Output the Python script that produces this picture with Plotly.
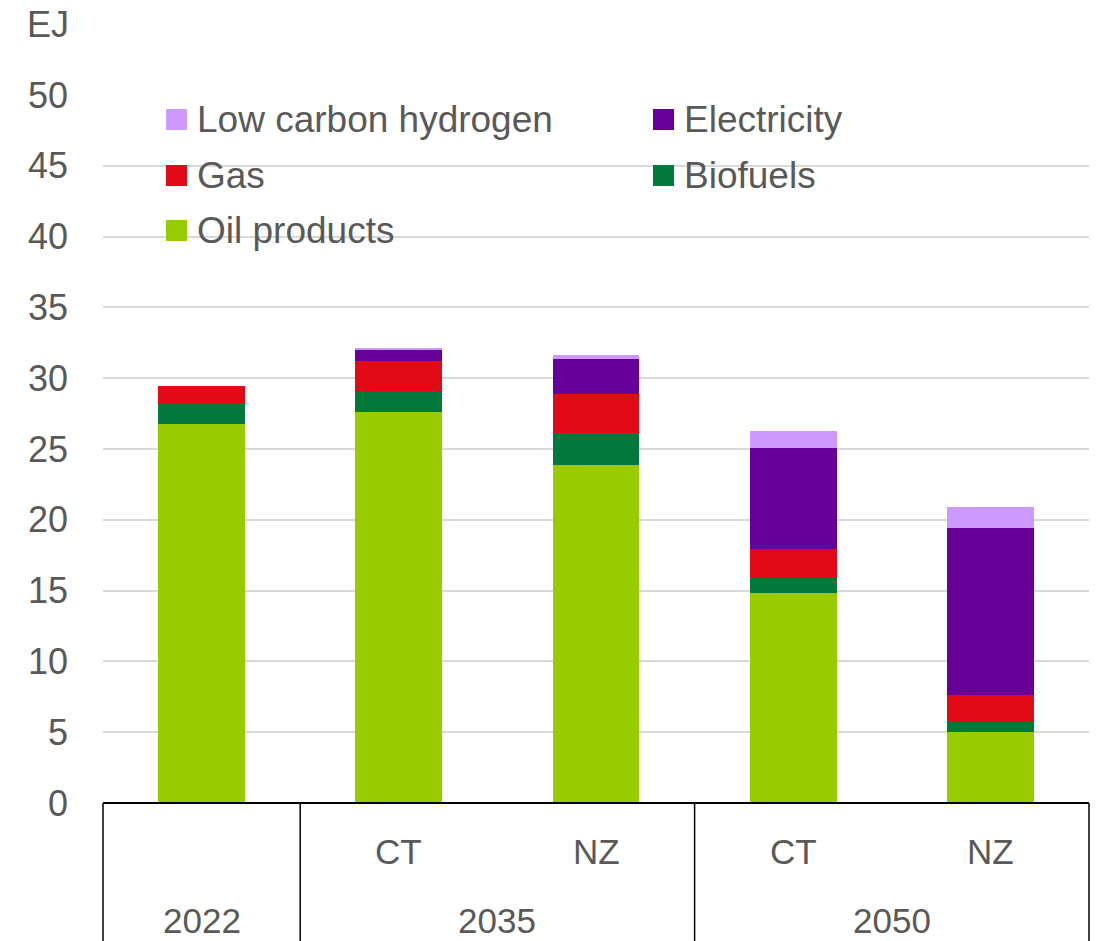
import plotly.graph_objects as go

# ---- data (EJ) ----
groups = ["2022", "2035", "2035", "2050", "2050"]
scenarios = ["", "CT", "NZ", "CT", "NZ"]
series_names = ["Oil products", "Biofuels", "Gas", "Electricity", "Low carbon hydrogen"]
oil_products = [26.8, 27.6, 23.9, 14.8, 5.0]
biofuels = [1.4, 1.5, 2.2, 1.1, 0.7]
gas = [1.25, 2.1, 2.8, 2.05, 1.9]
electricity = [0.0, 0.8, 2.45, 7.1, 11.8]
low_carbon_hydrogen = [0.0, 0.1, 0.3, 1.25, 1.5]
y_ticks = [0, 5, 10, 15, 20, 25, 30, 35, 40, 45, 50]

series_values = [oil_products, biofuels, gas, electricity, low_carbon_hydrogen]
colors = ["#99CC00", "#00793A", "#E20A16", "#660099", "#CC99FF"]

FONT = "Liberation Sans, Arial, sans-serif"
TXT = "#595959"

cats = [f"{g} {s}".strip() for g, s in zip(groups, scenarios)]
n = len(cats)

fig = go.Figure()
for name, vals, col in zip(series_names, series_values, colors):
    fig.add_trace(go.Bar(x=cats, y=vals, name=name, marker=dict(color=col, line=dict(width=0)),
                         showlegend=False))

# body margin is removed by post_script below
OFF = 0
PAGE_W, PAGE_H = 1099, 941
W, H = PAGE_W - OFF, PAGE_H - OFF
plot_l, plot_r, plot_t, plot_b = 103, 1089, 95, 803   # page pixel positions of plot area
ml, mr, mt, mb = plot_l - OFF, W - (plot_r - OFF), plot_t - OFF, H - (plot_b - OFF)
pw, ph = plot_r - plot_l, plot_b - plot_t

def px_x(px):
    return (px - plot_l) / pw

def px_y(py):
    return (plot_b - py) / ph

shapes = []
annotations = []

bottom = px_y(PAGE_H + 2)
def idx_to_paper(i):
    return (i + 0.5) / n

boundaries = [-0.5]
for i in range(1, n):
    if groups[i] != groups[i - 1]:
        boundaries.append(i - 0.5)
boundaries.append(n - 0.5)
for b in boundaries:
    xp = idx_to_paper(b)
    shapes.append(dict(type="line", xref="paper", yref="paper", x0=xp, x1=xp, y0=0, y1=bottom,
                       line=dict(color="black", width=1.5)))
shapes.append(dict(type="line", xref="paper", yref="paper", x0=0, x1=1, y0=0, y1=0,
                   line=dict(color="black", width=2)))

for i, s in enumerate(scenarios):
    if s:
        annotations.append(dict(text=s, xref="paper", yref="paper", x=idx_to_paper(i), y=px_y(851),
                                xanchor="center", yanchor="middle", showarrow=False,
                                font=dict(family=FONT, size=35, color=TXT)))
start = 0
for i in range(1, n + 1):
    if i == n or groups[i] != groups[start]:
        center = (start + i - 1) / 2
        annotations.append(dict(text=groups[start], xref="paper", yref="paper", x=idx_to_paper(center),
                                y=px_y(920), xanchor="center", yanchor="middle", showarrow=False,
                                font=dict(family=FONT, size=35, color=TXT)))
        start = i

annotations.append(dict(text="EJ", xref="paper", yref="paper", x=px_x(71), y=px_y(25),
                        xanchor="right", yanchor="middle", showarrow=False,
                        font=dict(family=FONT, size=36, color=TXT)))

legend_order = list(range(len(series_names)))[::-1]
col_x = [166, 653]
row_y = [119.5, 175.5, 230.5]
for k, si in enumerate(legend_order):
    r, c = divmod(k, 2)
    sx, sy = col_x[c], row_y[r]
    shapes.append(dict(type="rect", xref="paper", yref="paper", x0=px_x(sx), x1=px_x(sx + 21),
                       y0=px_y(sy + 10.5), y1=px_y(sy - 10.5), fillcolor=colors[si],
                       line=dict(width=0), layer="above"))
    annotations.append(dict(text=series_names[si], xref="paper", yref="paper", x=px_x(sx + 29),
                            y=px_y(sy), xanchor="left", yanchor="middle", showarrow=False,
                            font=dict(family=FONT, size=37, color=TXT)))

fig.update_layout(
    width=W, height=H,
    margin=dict(l=ml, r=mr, t=mt, b=mb, pad=0),
    barmode="stack", bargap=0.56,
    plot_bgcolor="white", paper_bgcolor="white",
    font=dict(family=FONT, color=TXT),
    xaxis=dict(range=[-0.5, n - 0.5], showticklabels=False, showgrid=False, zeroline=False,
               showline=False, ticks=""),
    yaxis=dict(range=[0, 50], tickvals=y_ticks, showgrid=True, gridcolor="#D9D9D9", gridwidth=2,
               zeroline=False, showline=False, ticks="", ticklabelstandoff=34,
               tickfont=dict(family=FONT, size=36, color=TXT)),
    shapes=shapes, annotations=annotations,
)

fig.write_html("out.html", config={"displayModeBar": False},
               post_script="document.body.style.margin='0px';")
